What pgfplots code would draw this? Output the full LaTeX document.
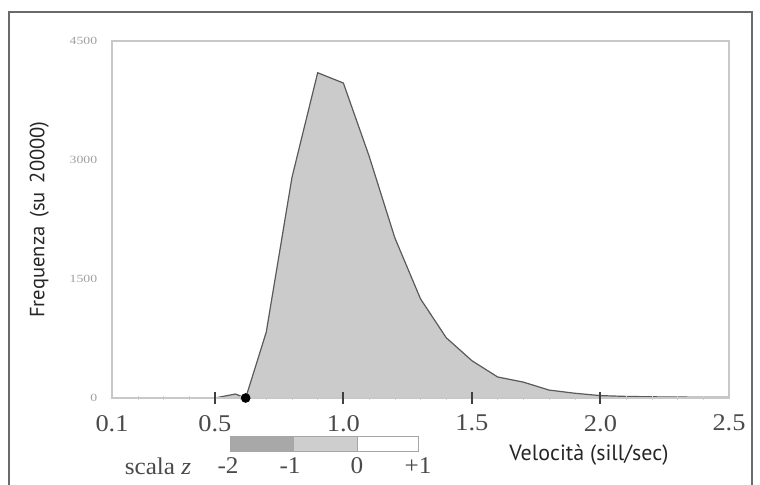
\documentclass[border=0pt]{standalone}
\usepackage{pgfplots}
\pgfplotsset{compat=1.18}
\usepackage{fontspec}
\setmainfont{Liberation Serif}
\newfontfamily\labfont{PT Sans}
\definecolor{fillgray}{HTML}{CBCBCB}
\definecolor{curvegray}{HTML}{5A5A5A}
\definecolor{framegray}{HTML}{6A6A6A}
\definecolor{boxgray}{HTML}{C8C8C8}
\definecolor{textgray}{HTML}{4A4A4A}
\definecolor{darkseg}{HTML}{A8A8A8}
\definecolor{midseg}{HTML}{CECECE}

\begin{document}
\begin{tikzpicture}
\path[use as bounding box] (0,0) rectangle (380pt,242.5pt);
\draw[framegray, line width=0.7pt] (4.5pt,-1pt) -- (4.5pt,236.5pt) -- (376pt,236.5pt) -- (376pt,-1pt);

\begin{axis}[
    at={(56pt,43.5pt)}, anchor=south west,
    width=308.5pt, height=178.5pt, scale only axis,
    xmin=0.1, xmax=2.5, ymin=0, ymax=4500,
    axis on top,
    axis line style={boxgray, line width=0.6pt},
    tick align=center,
    xtick pos=left, ytick pos=left,
    xtick={0.1,0.5,1,1.5,2,2.5},
    x tick style={draw=none},
    extra x ticks={0.5,1,1.5,2},
    extra x tick labels={},
    extra x tick style={x tick style={draw=black!75, line width=1pt}},
    minor xtick={0.2,0.3,0.4,0.6,0.7,0.8,0.9,1.1,1.2,1.3,1.4,1.6,1.7,1.8,1.9,2.1,2.2,2.3,2.4},
    minor tick length=2pt,
    minor x tick style={draw=gray!35},
    major tick length=6pt,
    ytick={0,1500,3000,4500},
    y tick style={draw=none},
    xticklabel shift=2pt,
    /pgf/number format/assume math mode=true,
    x tick label style={font=\fontsize{12}{13}\selectfont, text=textgray, xscale=1.1,
        /pgf/number format/.cd, fixed, fixed zerofill, precision=1},
    y tick label style={font=\fontsize{5.5}{6}\selectfont, text=gray!75, xscale=1.25,
        /pgf/number format/.cd, fixed, 1000 sep={}},
    xlabel={\labfont Velocità (sill/sec)},
    xlabel style={at={(axis description cs:0.773,-0.16)}, anchor=center,
        font=\fontsize{11}{13}\selectfont, text=black!85},
    ylabel={\labfont Frequenza\ \,(su\ \,20000)},
    ylabel style={at={(axis description cs:-0.118,0.5)}, anchor=center,
        font=\fontsize{10.3}{12}\selectfont, text=black!85},
]
\addplot[draw=curvegray, line width=0.6pt, fill=fillgray] table {
x y
0.5 0
0.58 50
0.62 0
0.7 830
0.8 2780
0.9 4100
1.0 3970
1.1 3050
1.2 2020
1.3 1250
1.4 760
1.5 470
1.6 265
1.7 200
1.8 100
1.9 60
2.0 30
2.1 20
2.2 15
2.3 12
2.4 10
2.5 8
} \closedcycle;
\draw[curvegray, line width=1pt] (axis cs:0.1,0) -- (axis cs:2.5,0);
\addplot[only marks, mark=*, mark size=2.2pt, black] coordinates {(0.62,0)};
\end{axis}

% scala z
\draw[gray!70, line width=0.5pt, fill=darkseg] (115pt,16.5pt) rectangle (146.5pt,24pt);
\draw[gray!70, line width=0.5pt, fill=midseg] (146.5pt,16.5pt) rectangle (178.5pt,24pt);
\draw[gray!70, line width=0.5pt, fill=white] (178.5pt,16.5pt) rectangle (209pt,24pt);
\begin{scope}[every node/.style={font=\fontsize{12}{13}\selectfont, text=textgray, inner sep=0pt, xscale=1.05}]
\node at (79pt,9.5pt) {scala \textit{z}};
\node at (114pt,9.5pt) {-2};
\node at (145pt,9.5pt) {-1};
\node at (178.5pt,9.5pt) {0};
\node at (209pt,9.5pt) {+1};
\end{scope}
\end{tikzpicture}
\end{document}
